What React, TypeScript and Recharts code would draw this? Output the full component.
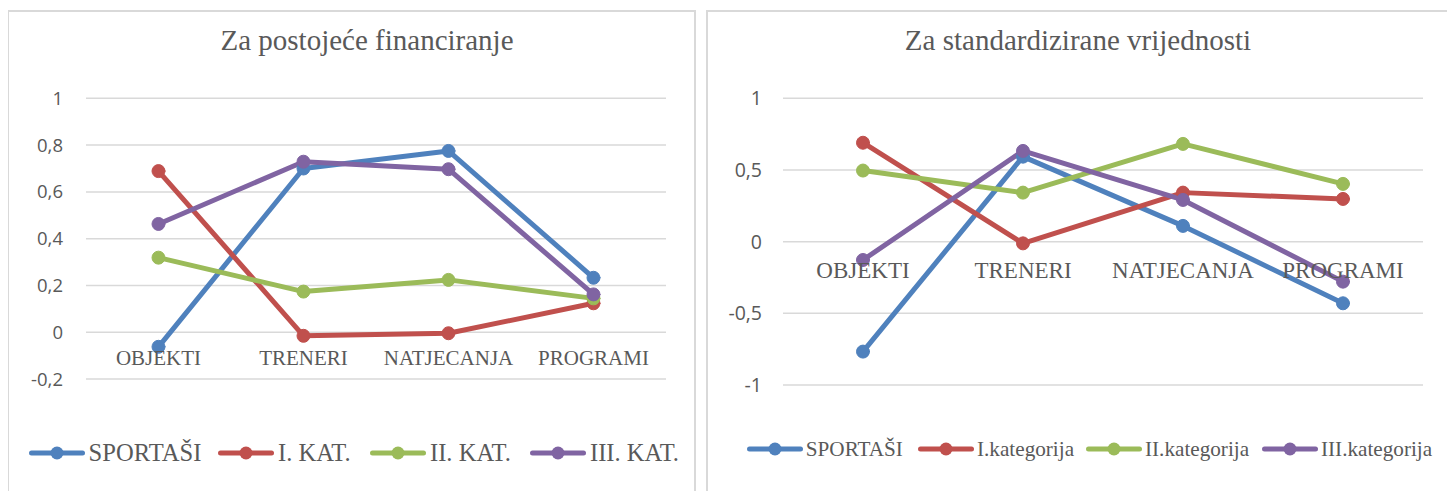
import React from 'react';
import { LineChart, Line, XAxis, YAxis, CartesianGrid, Legend, LabelList } from 'recharts';

const categories = ['OBJEKTI', 'TRENERI', 'NATJECANJA', 'PROGRAMI'];

const leftSportasi = [-0.062, 0.70, 0.775, 0.233];
const leftKat1 = [0.689, -0.015, -0.004, 0.124];
const leftKat2 = [0.319, 0.174, 0.224, 0.145];
const leftKat3 = [0.463, 0.729, 0.697, 0.162];

const rightSportasi = [-0.767, 0.593, 0.11, -0.43];
const rightKat1 = [0.69, -0.012, 0.342, 0.298];
const rightKat2 = [0.496, 0.342, 0.682, 0.403];
const rightKat3 = [-0.128, 0.633, 0.291, -0.279];

const leftTicks = [-0.2, 0, 0.2, 0.4, 0.6, 0.8, 1];
const rightTicks = [-1, -0.5, 0, 0.5, 1];

const leftNames = ['SPORTAŠI', 'I. KAT.', 'II. KAT.', 'III. KAT.'];
const rightNames = ['SPORTAŠI', 'I.kategorija', 'II.kategorija', 'III.kategorija'];
const colors = ['#4F81BD', '#C0504D', '#9BBB59', '#8064A2'];

const leftTitle = 'Za postojeće financiranje';
const rightTitle = 'Za standardizirane vrijednosti';

const SERIF = '"Liberation Serif", "Times New Roman", serif';
const SANS = '"Open Sans", "Liberation Sans", sans-serif';
const TEXT = '#595959';

const buildData = (series: number[][]) =>
  categories.map((name, i) => {
    const row: any = { name, zero: 0 };
    series.forEach((s, k) => {
      row['s' + k] = s[i];
    });
    return row;
  });

const leftData = buildData([leftSportasi, leftKat1, leftKat2, leftKat3]);
const rightData = buildData([rightSportasi, rightKat1, rightKat2, rightKat3]);

const fmt = (v: number) => String(v).replace('.', ',');

const makeLegend = (names: string[], fontSize: number, textGap: number, starts: number[]) => (props: any) => {
  const items = (props.payload || [])
    .filter((p: any) => names.indexOf(p.value) >= 0)
    .sort((a: any, b: any) => names.indexOf(a.value) - names.indexOf(b.value));
  return (
    <div style={{ position: 'relative', width: 700, height: 26, whiteSpace: 'nowrap' }}>
      {items.map((p: any, i: number) => (
        <div key={i} style={{ position: 'absolute', top: 0, height: 26, left: starts[i], display: 'flex', alignItems: 'center' }}>
          <svg width={56} height={14} style={{ display: 'block' }}>
            <line x1={2.5} y1={7} x2={53.5} y2={7} stroke={p.color} strokeWidth={5} strokeLinecap="round" />
            <circle cx={28} cy={7} r={6.5} fill={p.color} />
          </svg>
          <span style={{ marginLeft: textGap, fontFamily: SERIF, fontSize, color: TEXT, lineHeight: 1 }}>{p.value}</span>
        </div>
      ))}
    </div>
  );
};

type PanelProps = {
  data: any[];
  names: string[];
  ticks: number[];
  domain: [number, number];
  width: number;
  height: number;
  margin: any;
  pad: number;
  tickMargin: number;
  tickFont: number;
  catFont: number;
  catOffset: number;
  legend: any;
  legendTop: number;
  legendLeft: number;
};

const Chart = (p: PanelProps) => (
  <LineChart width={p.width} height={p.height} data={p.data} margin={p.margin}>
    <CartesianGrid vertical={false} stroke="#d9d9d9" strokeWidth={1.5} />
    <XAxis dataKey="name" hide padding={{ left: p.pad, right: p.pad }} />
    <YAxis
      type="number"
      domain={p.domain}
      ticks={p.ticks}
      interval={0}
      tickFormatter={fmt}
      axisLine={false}
      tickLine={false}
      tickSize={0}
      tickMargin={p.tickMargin}
      width={60}
      tick={{ fill: TEXT, fontSize: p.tickFont, fontFamily: SANS }}
    />
    <Line
      dataKey="zero"
      stroke="none"
      dot={false}
      activeDot={false}
      legendType="none"
      isAnimationActive={false}
    >
      <LabelList dataKey="name" position="bottom" offset={p.catOffset} fill={TEXT} fontSize={p.catFont} fontFamily={SERIF} />
    </Line>
    {p.names.map((n, k) => (
      <Line
        key={n}
        dataKey={'s' + k}
        name={n}
        stroke={colors[k]}
        strokeWidth={5}
        strokeLinecap="round"
        strokeLinejoin="round"
        dot={{ r: 6.5, fill: colors[k], stroke: colors[k], strokeWidth: 1 }}
        activeDot={false}
        isAnimationActive={false}
      />
    ))}
    <Legend
      verticalAlign="middle"
      align="center"
      content={p.legend}
      wrapperStyle={{ top: p.legendTop, left: p.legendLeft, bottom: 'auto', right: 'auto', width: 'auto' }}
    />
  </LineChart>
);

export default function App() {
  return (
    <div style={{ position: 'relative', width: 1439, height: 483, overflow: 'hidden', background: '#fff' }}>
      <div style={{ position: 'absolute', left: -1, top: 2, width: 689, height: 520, border: '2px solid #d9d9d9', boxSizing: 'border-box' }} />
      <div style={{ position: 'absolute', left: 698, top: 2, width: 746, height: 520, border: '2px solid #d9d9d9', boxSizing: 'border-box' }} />

      <div style={{ position: 'absolute', left: 59, width: 600, top: 18.4, textAlign: 'center', fontFamily: SERIF, fontSize: 29, lineHeight: '29px', color: TEXT, whiteSpace: 'nowrap' }}>
        {leftTitle}
      </div>
      <div style={{ position: 'absolute', left: 770, width: 600, top: 18.4, textAlign: 'center', fontFamily: SERIF, fontSize: 29, lineHeight: '29px', color: TEXT, whiteSpace: 'nowrap' }}>
        {rightTitle}
      </div>

      <div style={{ position: 'absolute', left: 0, top: 0 }}>
        <Chart
          data={leftData}
          names={leftNames}
          ticks={leftTicks}
          domain={[-0.2, 1]}
          width={700}
          height={483}
          margin={{ top: 90.3, right: 42, bottom: 111.9, left: 18 }}
          pad={72.5}
          tickMargin={23}
          tickFont={18.5}
          catFont={21}
          catOffset={18}
          legend={makeLegend(leftNames, 24.6, 4, [0, 189.4, 341.4, 501.4])}
          legendTop={432.3}
          legendLeft={20.6}
        />
      </div>

      <div style={{ position: 'absolute', left: 699, top: 0 }}>
        <Chart
          data={rightData}
          names={rightNames}
          ticks={rightTicks}
          domain={[-1, 1]}
          width={745}
          height={483}
          margin={{ top: 90.3, right: 29, bottom: 106, left: 16 }}
          pad={80}
          tickMargin={21}
          tickFont={19.5}
          catFont={23}
          catOffset={20.3}
          legend={makeLegend(rightNames, 21.2, 3, [0, 171.2, 339.2, 515.2])}
          legendTop={428.3}
          legendLeft={39.8}
        />
      </div>
    </div>
  );
}
